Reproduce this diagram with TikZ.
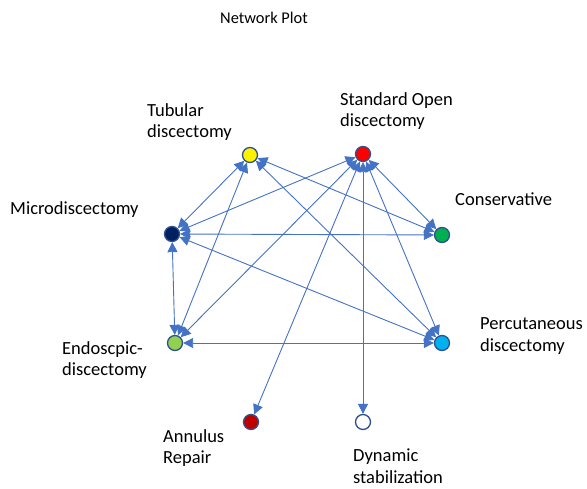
\documentclass[tikz,border=0pt]{standalone}
\usepackage{fontspec}
\setmainfont{Carlito}
\usetikzlibrary{arrows.meta,positioning}
\definecolor{edgeblue}{HTML}{4472C4}
\definecolor{rimblue}{HTML}{2F528F}
\begin{document}
\begin{tikzpicture}[x=1pt,y=-1pt,>={Triangle[length=10pt,width=10pt]}]
%          TUBULAR        STDOPEN
%   MICRO                         CONS
%   ENDO                          PERC
%          ANNULUS        DYNAMIC
    \tikzstyle{trt}=[circle, draw=rimblue, line width=1.3pt, minimum size=15pt, inner sep=0pt]
    \tikzstyle{lbl}=[anchor=west, align=left, inner sep=0pt, font=\fontsize{18.5}{21.5}\selectfont]
    \tikzstyle{link}=[<->, color=edgeblue, line width=0.9pt]
    \useasboundingbox (0,0) rectangle (587,488);

    \node[font=\fontsize{16.4}{19}\selectfont] (title) at (264,18) {Network Plot};

    \node[trt, fill=yellow] (tubular) at (250,155) {};
    \node[trt, fill=red] (stdopen) at (363,154) {};
    \node[trt, fill={rgb,255:red,0;green,32;blue,96}] (micro) at (172,234) {};
    \node[trt, fill={rgb,255:red,0;green,176;blue,80}] (cons) at (442,235) {};
    \node[trt, fill={rgb,255:red,146;green,208;blue,80}] (endo) at (175,343) {};
    \node[trt, fill={rgb,255:red,0;green,176;blue,240}] (perc) at (442,343) {};
    \node[trt, fill={rgb,255:red,192;green,0;blue,0}] (annulus) at (251,422) {};
    \node[trt, fill=white] (dynamic) at (363,422) {};

    % labels
    \node[lbl] (tubularlbl) at (147,122) {Tubular\\discectomy};
    \node[lbl] (stdopenlbl) at (340,111) {Standard Open\\discectomy};
    \node[lbl] (microlbl) at (10,210) {Microdiscectomy};
    \node[lbl] (conslbl) at (455,199) {Conservative};
    \node[lbl] (endolbl) at (62,360) {Endoscpic-\\discectomy};
    \node[lbl] (perclbl) at (480,336) {Percutaneous\\discectomy};
    \node[lbl] (annuluslbl) at (163,448) {Annulus\\Repair};
    \node[lbl] (dynamiclbl) at (353,466) {Dynamic\\stabilization};

    \path[link]
              (micro) edge (tubular)
              (endo) edge (tubular)
              (perc) edge (tubular)
              (cons) edge (tubular)
              (micro) edge (stdopen)
              (endo) edge (stdopen)
              (annulus) edge (stdopen)
              (dynamic) edge (stdopen)
              (perc) edge (stdopen)
              (cons) edge (stdopen);

    \path[link] (micro) edge (cons);
    \path[link] (micro) edge (endo);
    \path[link] (micro) edge (perc);
    \path[link] (endo) edge (perc);
\end{tikzpicture}
\end{document}
